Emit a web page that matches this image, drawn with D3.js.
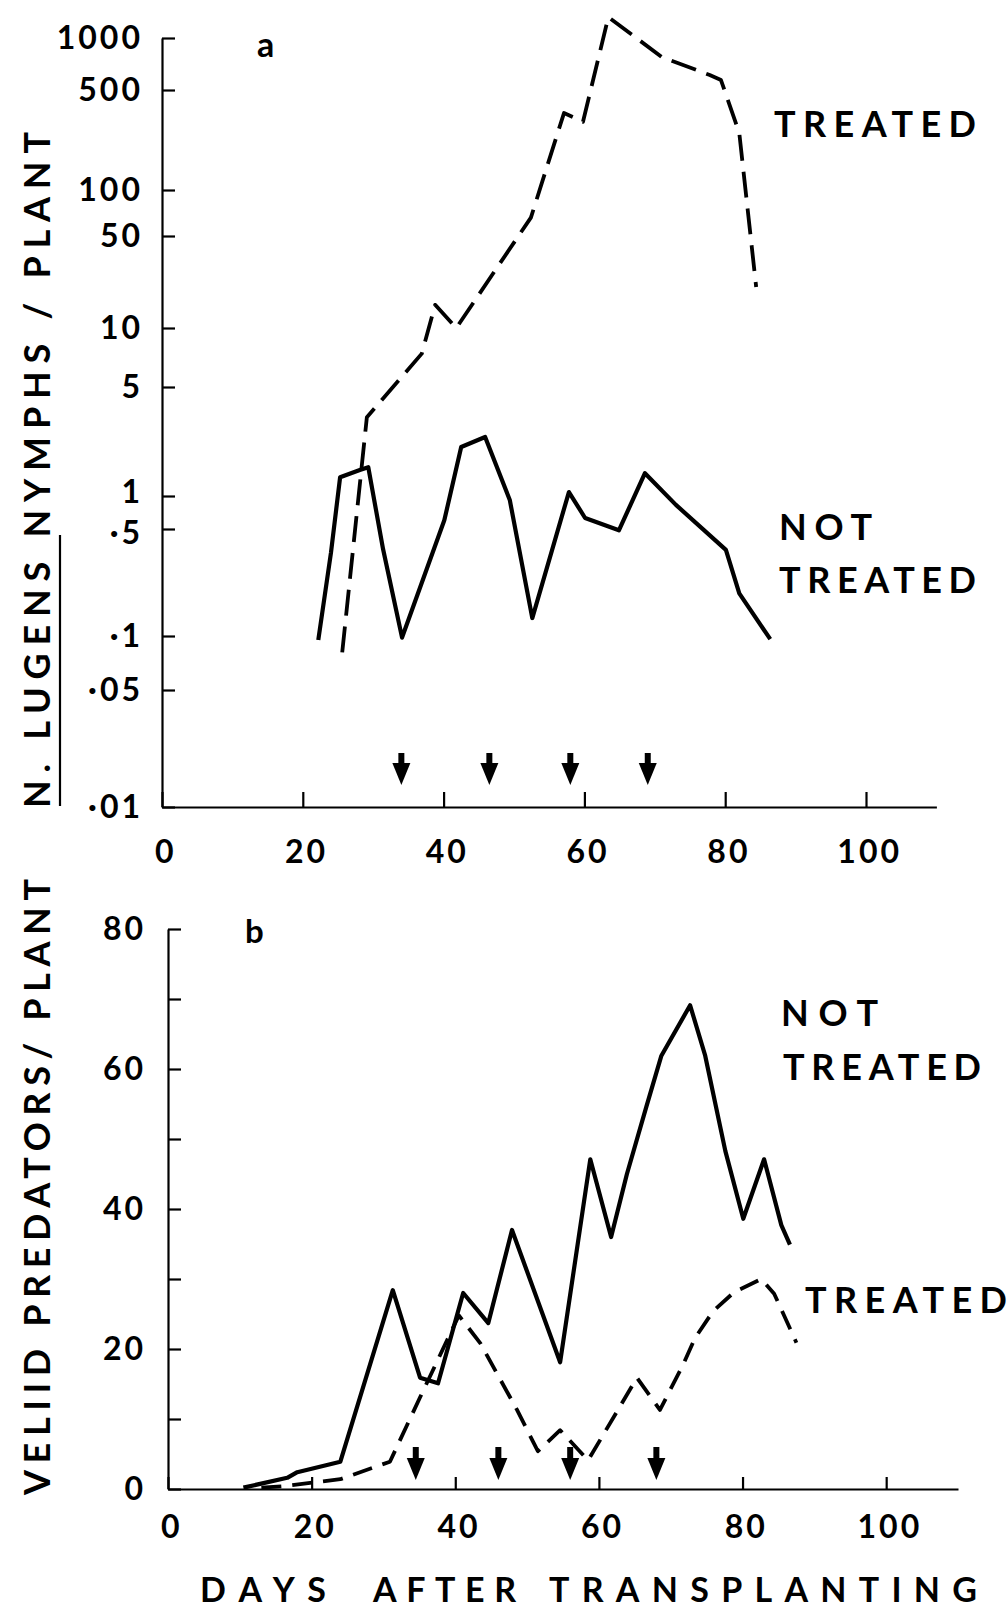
<!DOCTYPE html>
<html>
<head>
<meta charset="utf-8">
<script src="https://cdn.jsdelivr.net/npm/d3@7"></script>
<style>
  body { margin: 0; background: #fff; }
  svg { display: block; background: #fff; }
  text { font-family: Lato, "DejaVu Sans", sans-serif; font-weight: bold; fill: #000; }
</style>
</head>
<body>
<svg id="canvas" width="1008" height="1609"></svg>
<script>
// ---- data ----
// panel a: N. lugens nymphs / plant, [day, value]
let nymphTreated = [[25.6, 0.081], [29.1, 3.2], [36.9, 7.4], [38.8, 15], [41.8, 10], [52.4, 66],
  [57.1, 345], [59.8, 300], [63.4, 1320], [71.0, 776], [77.8, 611], [79.4, 571], [82.0, 250], [84.4, 20.5]]
let nymphNotTreated = [[22.2, 0.095], [24.0, 0.35], [25.3, 1.32], [28.1, 1.47], [29.3, 1.53], [31.4, 0.37],
  [34.1, 0.098], [40.1, 0.6], [42.5, 2.06], [45.9, 2.39], [49.4, 0.92], [52.6, 0.131], [57.8, 1.06],
  [60.1, 0.63], [64.9, 0.49], [68.6, 1.4], [73.0, 0.83], [80.1, 0.365], [82.0, 0.19], [86.4, 0.096]]
let sprayDaysA = [34, 46.5, 58, 69]
let logTicks = [0.01, 0.05, 0.1, 0.5, 1, 5, 10, 50, 100, 500, 1000]
let logTickLabels = ['·01', '·05', '·1', '·5', '1', '5', '10', '50', '100', '500', '1000']

// panel b: veliid predators / plant, [day, value]
let predNotTreated = [[10.5, 0.2], [16.6, 1.6], [18.0, 2.4], [24.0, 3.9], [31.3, 28.4], [35.1, 15.9],
  [37.6, 15.1], [41.1, 28.0], [44.6, 23.7], [47.9, 37], [54.6, 18.1], [58.8, 47.1], [61.7, 36.0],
  [63.9, 45], [66.6, 54.6], [68.7, 61.9], [72.7, 69.1], [74.8, 61.9], [77.6, 48.3], [80.1, 38.6],
  [83.0, 47.1], [85.4, 37.7], [86.6, 34.9]]
let predTreated = [[13, 0.2], [16, 0.4], [24, 1.4], [30.9, 3.9], [35.1, 13.1], [40.5, 24.8], [43.5, 20.8],
  [48.6, 11.3], [51.5, 5.4], [54.6, 8.4], [58.5, 4.1], [65.3, 15.9], [68.5, 11.3], [71.7, 17.7],
  [73.4, 21.6], [75.9, 25.4], [78.8, 28.1], [82.6, 30], [84.4, 27.9], [87.5, 20.9]]
let sprayDaysB = [34.5, 46, 56, 68]
let predTicks = [0, 10, 20, 30, 40, 50, 60, 70, 80]

let dayTicks = [0, 20, 40, 60, 80, 100]

// ---- layout ----
let canvas = d3.select('#canvas')
let fontTick = '32px'

// hand-drawn log axis: tick spacing is not even, so map each tick piecewise
let logTickPos = [807, 690, 636, 529, 496, 387, 328, 236, 190, 90, 38]

let xA = d3.scaleLinear().domain([0, 110]).range([162, 936.4])
let yA = d3.scaleLog().domain(logTicks).range(logTickPos)
let xB = d3.scaleLinear().domain([0, 110]).range([168, 958])
let yB = d3.scaleLinear().domain([0, 80]).range([1489, 929])

let styleAxis = (g, letter) => {
    g.attr('font-family', null).attr('font-size', null)
    g.select('.domain').attr('stroke-width', 2.2)
    g.selectAll('.tick line').attr('stroke-width', 2.2)
    g.selectAll('.tick text')
        .style('font-size', fontTick)
        .style('letter-spacing', letter + 'px')
}

// panel a axes
canvas.append('g')
    .attr('transform', 'translate(0,' + yA(0.01) + ')')
    .call(d3.axisBottom(xA).tickValues(dayTicks).tickSize(-15).tickSizeOuter(0).tickPadding(33))
    .call(g => styleAxis(g, 3))
    .call(g => g.selectAll('.tick text').attr('dx', '0.1em'))

canvas.append('g')
    .attr('transform', 'translate(' + xA(0) + ',0)')
    .call(d3.axisLeft(yA).tickValues(logTicks).tickSize(-13).tickSizeOuter(0).tickPadding(19)
        .tickFormat((d, i) => logTickLabels[i]))
    .call(g => styleAxis(g, 3))
    // "1" and "·5" sit very close: spread them a little
    .call(g => g.selectAll('.tick text')
        .attr('y', d => d === 1 ? -4 : d === 0.5 ? 4 : 0))

// panel b axes
canvas.append('g')
    .attr('transform', 'translate(0,' + yB(0) + ')')
    .call(d3.axisBottom(xB).tickValues(dayTicks).tickSize(-12).tickSizeOuter(0).tickPadding(26))
    .call(g => styleAxis(g, 3))
    .call(g => g.selectAll('.tick text').attr('dx', '0.1em'))

canvas.append('g')
    .attr('transform', 'translate(' + xB(0) + ',0)')
    .call(d3.axisLeft(yB).tickValues(predTicks).tickSize(-13).tickSizeOuter(0).tickPadding(22)
        .tickFormat(d => d % 20 === 0 ? d : ''))
    .call(g => styleAxis(g, 3))

// lines
let lineA = d3.line().x(d => xA(d[0])).y(d => yA(d[1]))
let lineB = d3.line().x(d => xB(d[0])).y(d => yB(d[1]))

let drawLine = (data, gen, dash) => {
    canvas.append('path')
        .datum(data)
        .attr('d', gen)
        .attr('fill', 'none')
        .attr('stroke', '#000')
        .attr('stroke-width', dash ? 3.8 : 4.2)
        .attr('stroke-linejoin', 'round')
        .attr('stroke-dasharray', dash)
}
drawLine(nymphNotTreated, lineA, null)
drawLine(nymphTreated, lineA, '26 11')
drawLine(predNotTreated, lineB, null)
drawLine(predTreated, lineB, '20 11')

// spray arrows: shaft then a solid head
let drawArrows = (days, x, base, top, headTop, tip) => {
    let arrow = canvas.append('g').selectAll('g')
        .data(days)
        .enter()
        .append('g')
        .attr('transform', d => 'translate(' + x(d) + ',' + base + ')')
    arrow.append('line')
        .attr('x1', 0).attr('x2', 0)
        .attr('y1', -top).attr('y2', -headTop + 2)
        .attr('stroke', '#000')
        .attr('stroke-width', 6)
    arrow.append('path')
        .attr('d', 'M-9,' + (-headTop) + 'L9,' + (-headTop) + 'L0,' + (-tip) + 'Z')
        .attr('fill', '#000')
}
drawArrows(sprayDaysA, xA, yA(0.01), 54, 44, 22)
drawArrows(sprayDaysB, xB, yB(0), 42, 31, 9)

// texts
let label = (str, x, y, size, len) => {
    let t = canvas.append('text')
        .attr('x', x)
        .attr('y', y)
        .style('font-size', size + 'px')
        .text(str)
    if (len) t.attr('textLength', len).attr('lengthAdjust', 'spacing')
    return t
}

label('a', 257, 57, 34)
label('b', 245, 943, 33)

label('TREATED', 774, 137, 36, 202)
label('NOT', 779, 540, 36, 93)
label('TREATED', 779, 593, 36, 197)
label('NOT', 781, 1026, 36, 97)
label('TREATED', 783, 1080, 36, 198)
label('TREATED', 805, 1313, 36, 202)

label('DAYS', 200, 1602, 34, 126)
label('AFTER', 373, 1602, 34, 143)
label('TRANSPLANTING', 549, 1602, 34, 428)

// rotated y titles
canvas.append('text')
    .attr('transform', 'translate(50,470) rotate(-90)')
    .attr('text-anchor', 'middle')
    .style('font-size', '36px')
    .attr('textLength', 676)
    .attr('lengthAdjust', 'spacing')
    .text('N. LUGENS NYMPHS / PLANT')

canvas.append('line')
    .attr('x1', 60).attr('x2', 60)
    .attr('y1', 535).attr('y2', 806)
    .attr('stroke', '#000')
    .attr('stroke-width', 2.2)

canvas.append('text')
    .attr('transform', 'translate(50,1187) rotate(-90)')
    .attr('text-anchor', 'middle')
    .style('font-size', '36px')
    .attr('textLength', 616)
    .attr('lengthAdjust', 'spacing')
    .text('VELIID PREDATORS/ PLANT')
</script>
</body>
</html>
